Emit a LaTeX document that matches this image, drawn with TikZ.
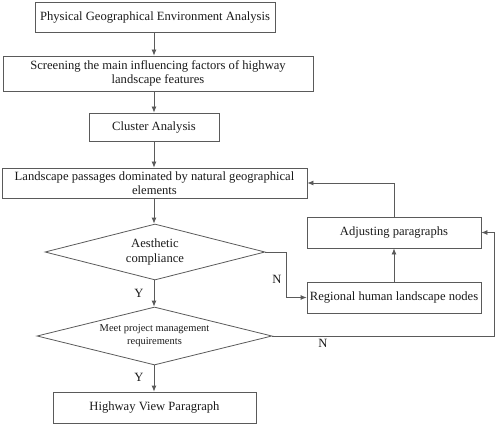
\documentclass[tikz,border=0pt]{standalone}
\usepackage{fontspec}
\setmainfont{Liberation Serif}
\usetikzlibrary{shapes.geometric,arrows.meta}
\definecolor{edge}{HTML}{5A5A5A}
\definecolor{ink}{HTML}{1A1A1A}
\tikzset{
  box/.style={draw=edge, line width=0.8pt, rectangle, align=center, text=ink, inner sep=0pt,
    font=\fontsize{12.6}{14.5}\selectfont},
  dec/.style={draw=edge, line width=0.8pt, diamond, aspect=4, align=center, text=ink, inner sep=0pt},
  flow/.style={draw=edge, line width=0.8pt, -{Latex[length=6pt,width=5pt]}},
  lab/.style={text=ink, font=\fontsize{12.6}{14.5}\selectfont},
}
\begin{document}
\begin{tikzpicture}[x=1pt,y=-1pt]
  \useasboundingbox (0,0) rectangle (498,425);
  % main column
  \node[box, minimum width=240pt, minimum height=30pt] (phys) at (155,17) {Physical Geographical Environment Analysis};
  \node[box, minimum width=310pt, minimum height=35pt] (screen) at (158,73.5) {Screening the main influencing factors of highway\\landscape features};
  \node[box, minimum width=130pt, minimum height=28pt] (clus) at (154,127) {Cluster Analysis};
  \node[box, minimum width=305pt, minimum height=30pt] (pass) at (154.5,183) {Landscape passages dominated by natural geographical\\elements};
  \node[dec, minimum width=220pt, minimum height=56pt, font=\fontsize{12.6}{14.5}\selectfont] (aes) at (155,252) {Aesthetic\\compliance};
  \node[dec, minimum width=235pt, minimum height=58pt, font=\fontsize{10.5}{13}\selectfont] (meet) at (154.5,336) {Meet project management\\requirements};
  \node[box, minimum width=203pt, minimum height=31pt] (view) at (154.5,407.5) {Highway View Paragraph};
  % side column
  \node[box, minimum width=174pt, minimum height=31pt] (adj) at (394,232.5) {Adjusting paragraphs};
  \node[box, minimum width=174pt, minimum height=31pt] (reg) at (394,297.5) {Regional human landscape nodes};
  \coordinate (c1) at (286,252);
  \coordinate (c2) at (494,336);

  \draw[flow] (phys.south -| clus) -- (screen.north -| clus);
  \draw[flow] (screen.south -| clus) -- (clus.north);
  \draw[flow] (clus.south) -- (pass.north -| clus);
  \draw[flow] (pass.south -| clus) -- (aes.north -| clus);
  \draw[flow] (aes.south -| clus) -- (meet.north -| clus);
  \draw[flow] (meet.south -| clus) -- (view.north -| clus);
  \draw[flow] (aes.east) -- (c1) |- (reg.west);
  \draw[flow] (reg.north) -- (adj.south);
  \draw[flow] (adj.north) |- (pass.east);
  \draw[flow] (meet.east) -- (c2) |- (adj.east);

  \node[lab] at (277,279) {N};
  \node[lab] at (323,343) {N};
  \node[lab] at (139,293) {Y};
  \node[lab] at (139,377) {Y};
\end{tikzpicture}
\end{document}
